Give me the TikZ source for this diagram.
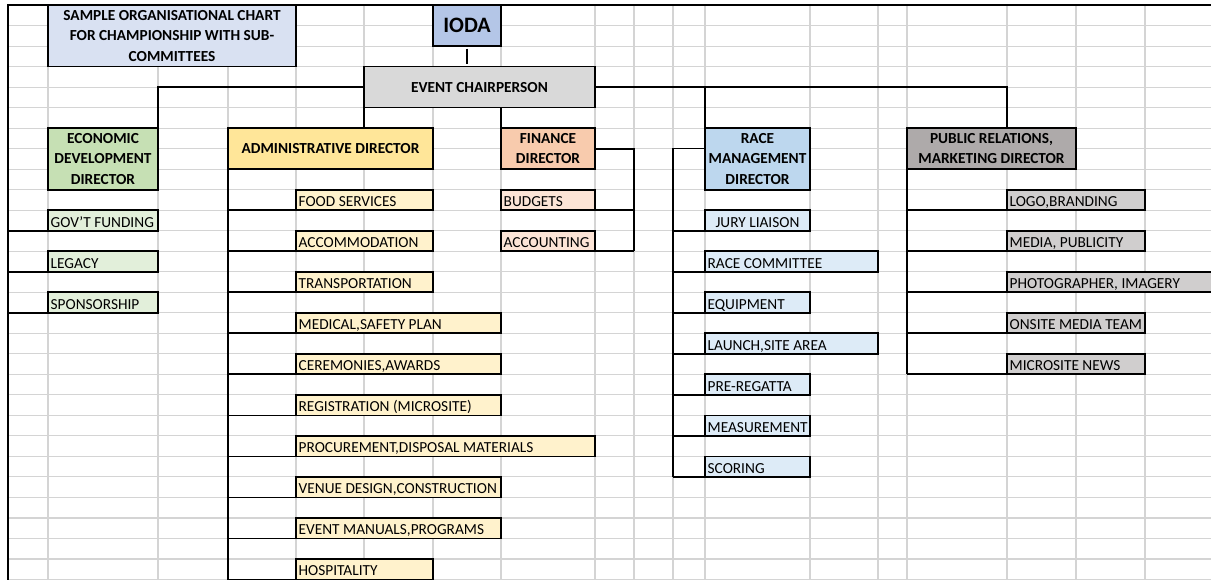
\documentclass[tikz,border=0pt]{standalone}
\usepackage{fontspec}
\setmainfont{Carlito}
\usetikzlibrary{calc}
\definecolor{gridc}{RGB}{212,212,212}
\definecolor{titlebg}{HTML}{D9E1F2}
\definecolor{iodabg}{HTML}{B4C6E7}
\definecolor{chairbg}{HTML}{D9D9D9}
\definecolor{econbg}{HTML}{C6E0B4}
\definecolor{econsub}{HTML}{E2EFDA}
\definecolor{adminbg}{HTML}{FFE699}
\definecolor{adminsub}{HTML}{FFF2CC}
\definecolor{finbg}{HTML}{F8CBAD}
\definecolor{finsub}{HTML}{FCE4D6}
\definecolor{racebg}{HTML}{BDD7EE}
\definecolor{racesub}{HTML}{DDEBF7}
\definecolor{prbg}{HTML}{AEAAAA}
\definecolor{prsub}{HTML}{D0CECE}
\tikzset{
  gridline/.style={gridc, line width=0.8pt},
  conn/.style={black, line width=1.3pt},
  hdr/.style={draw=black, line width=1.3pt, inner sep=0pt, outer sep=0pt, align=center,
    font=\fontsize{11.5}{15.5}\selectfont\bfseries},
  sub/.style={draw=black, line width=1.3pt, inner xsep=2pt, inner ysep=0pt, outer sep=0pt,
    text height=10pt, text depth=0pt, font=\fontsize{11.5}{15.5}\selectfont},
}
% header cell: fill, name, x1, x2, top row index, bottom row index, text
\newcommand{\hdrcell}[7]{%
  \pgfmathsetlengthmacro\mycw{(#4-#3)*0.75pt}%
  \pgfmathsetlengthmacro\mych{(#6-#5)*20.5185*0.75pt}%
  \node[hdr,fill=#1,minimum width=\mycw,minimum height=\mych] (#2)
    at ({(#3+#4)/2},{5+20.5185*(#5+#6)/2}) {#7};}
% sub cell: [align] fill, name, x1, x2, row index, text
\newcommand{\subcell}[7][l]{%
  \pgfmathsetlengthmacro\mycw{(#5-#4)*0.75pt}%
  \pgfmathsetlengthmacro\mytw{(#5-#4)*0.75pt-4pt}%
  \node[sub,fill=#2,minimum width=\mycw,minimum height=15.389pt] (#3)
    at ({(#4+#5)/2},{5+20.5185*(#6+0.5)}) {\makebox[\mytw][#1]{#7}};}
\begin{document}
\begin{tikzpicture}[x=0.75pt,y=-0.75pt]
\useasboundingbox (0,0) rectangle (1211,579);
\fill[white] (0,0) rectangle (1211,579);
\clip (0,0) rectangle (1211,579);
% spreadsheet grid
\foreach \k in {0,...,28} \draw[gridline] (8,{5+20.5185*\k}) -- (1211,{5+20.5185*\k});
\foreach \x in {48,158,228,296,364,433,501,595,634,673,705,810,878,907,1007,1076,1145}
  \draw[gridline] (\x,5) -- (\x,579);
% header boxes
\hdrcell{titlebg}{title}{48}{296}{0}{3}{SAMPLE ORGANISATIONAL CHART\\FOR CHAMPIONSHIP WITH SUB-\\COMMITTEES}
\hdrcell{iodabg}{ioda}{433}{501}{0}{2}{\fontsize{16.5}{18}\selectfont IODA}
\hdrcell{chairbg}{chair}{364}{595}{3}{5}{EVENT CHAIRPERSON}
\hdrcell{econbg}{econ}{48}{158}{6}{9}{ECONOMIC\\DEVELOPMENT\\DIRECTOR}
\hdrcell{adminbg}{admin}{228}{433}{6}{8}{ADMINISTRATIVE DIRECTOR}
\hdrcell{finbg}{fin}{501}{595}{6}{8}{FINANCE\\DIRECTOR}
\hdrcell{racebg}{race}{705}{810}{6}{9}{RACE\\MANAGEMENT\\DIRECTOR}
\hdrcell{prbg}{pr}{907}{1076}{6}{8}{PUBLIC RELATIONS,\\MARKETING DIRECTOR}
% economic
\subcell{econsub}{gov}{48}{158}{10}{GOV'T FUNDING}
\subcell{econsub}{legacy}{48}{158}{12}{LEGACY}
\subcell{econsub}{spons}{48}{158}{14}{SPONSORSHIP}
% administrative
\subcell{adminsub}{food}{296}{433}{9}{FOOD SERVICES}
\subcell{adminsub}{accom}{296}{433}{11}{ACCOMMODATION}
\subcell{adminsub}{transp}{296}{433}{13}{TRANSPORTATION}
\subcell{adminsub}{medical}{296}{501}{15}{MEDICAL,SAFETY PLAN}
\subcell{adminsub}{cerem}{296}{501}{17}{CEREMONIES,AWARDS}
\subcell{adminsub}{regis}{296}{501}{19}{REGISTRATION (MICROSITE)}
\subcell{adminsub}{procure}{296}{595}{21}{PROCUREMENT,DISPOSAL MATERIALS}
\subcell{adminsub}{venue}{296}{501}{23}{VENUE DESIGN,CONSTRUCTION}
\subcell{adminsub}{manuals}{296}{501}{25}{EVENT MANUALS,PROGRAMS}
\subcell{adminsub}{hosp}{296}{433}{27}{HOSPITALITY}
% finance
\subcell{finsub}{bud}{501}{595}{9}{BUDGETS}
\subcell{finsub}{acc}{501}{595}{11}{ACCOUNTING}
% race
\subcell[c]{racesub}{jury}{705}{810}{10}{JURY LIAISON}
\subcell{racesub}{racecom}{705}{878}{12}{RACE COMMITTEE}
\subcell{racesub}{equip}{705}{810}{14}{EQUIPMENT}
\subcell{racesub}{launch}{705}{878}{16}{LAUNCH,SITE AREA}
\subcell{racesub}{prereg}{705}{810}{18}{PRE-REGATTA}
\subcell{racesub}{measure}{705}{810}{20}{MEASUREMENT}
\subcell{racesub}{scoring}{705}{810}{22}{SCORING}
% public relations
\subcell{prsub}{logo}{1007}{1145}{9}{LOGO,BRANDING}
\subcell{prsub}{media}{1007}{1145}{11}{MEDIA, PUBLICITY}
\subcell{prsub}{photo}{1007}{1240}{13}{PHOTOGRAPHER, IMAGERY}
\subcell{prsub}{onsite}{1007}{1145}{15}{ONSITE MEDIA TEAM}
\subcell{prsub}{news}{1007}{1145}{17}{MICROSITE NEWS}
% connectors
\coordinate (tl) at (8,5);
\coordinate (tr) at (1211,5);
\coordinate (bl) at (8,580);
\draw[conn] (tr) -- (tl) -- (bl);
\draw[conn,shorten <=2pt,shorten >=2pt] (ioda.south) -- (ioda.south |- chair.north);
\draw[conn] (chair.west) -| (econ.north east);
\draw[conn] (chair.south west) -- (chair.south west |- admin.north);
\draw[conn] (fin.north west |- chair.south) -- (fin.north west);
\draw[conn] (chair.east) -| (race.north west);
\draw[conn] (chair.east) -| (logo.west |- pr.north);
% economic bus
\draw[conn] ($(econ.north west)!0.333!(econ.south west)$) -- ($(econ.north west)!0.333!(econ.south west)$ -| tl);
\foreach \n in {gov,legacy,spons} \draw[conn] (\n.south west) -- (\n.south west -| tl);
% administrative bus
\draw[conn] (admin.south west) -- (admin.south west |- bl);
\foreach \n in {food,accom,transp,medical,cerem,regis,procure,venue,manuals,hosp}
  \draw[conn] (\n.south west) -- (\n.south west -| admin.south west);
% finance bus
\draw[conn] (fin.east) -- ++(39,0) coordinate (fb) -- (fb |- acc.south);
\foreach \n in {bud,acc} \draw[conn] (\n.south east) -- (\n.south east -| fb);
% race bus
\draw[conn] ($(race.north west)!0.333!(race.south west)$) -- ++(-32,0) coordinate (rb) -- (rb |- scoring.south);
\foreach \n in {jury,racecom,equip,launch,prereg,measure,scoring}
  \draw[conn] (\n.south west) -- (\n.south west -| rb);
% public relations bus
\draw[conn] (pr.south west) -- (pr.south west |- news.south);
\foreach \n in {logo,media,photo,onsite,news}
  \draw[conn] (\n.south west) -- (\n.south west -| pr.south west);
\end{tikzpicture}
\end{document}
